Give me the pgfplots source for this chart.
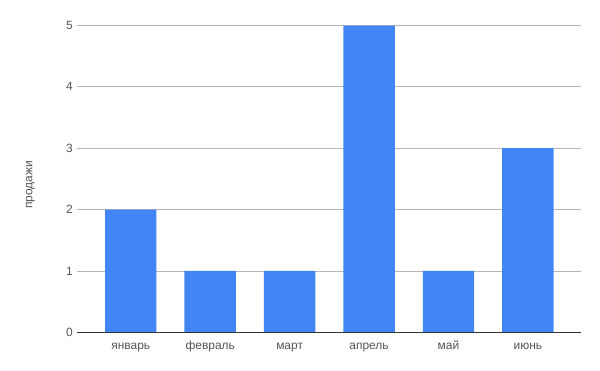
\documentclass[border=0pt]{standalone}
\usepackage{fontspec}
\setmainfont{Liberation Sans}
\usepackage{pgfplots}
\pgfplotsset{compat=1.18}
\definecolor{barblue}{HTML}{4285F4}
\definecolor{gridgray}{HTML}{B7B7B7}
\definecolor{txtgray}{HTML}{555555}
\definecolor{basegray}{HTML}{333333}
\begin{document}
\begin{tikzpicture}
\begin{axis}[
  name=ax,
  scale only axis,
  width=504bp, height=306.8bp,
  xmin=-0.673, xmax=5.672,
  ymin=0, ymax=5,
  ytick={0,1,2,3,4,5},
  xtick={0,1,2,3,4,5},
  xticklabels={январь,февраль,март,апрель,май,июнь},
  /pgf/number format/assume math mode=true,
  axis line style={draw=none},
  major tick length=0pt,
  ymajorgrids,
  grid style={gridgray, line width=0.8pt},
  tick label style={font=\fontsize{12}{14}\selectfont, text=txtgray},
  yticklabel style={xshift=-1bp},
  xticklabel style={anchor=center, text height=1.6ex, text depth=0.3ex, yshift=-14bp},
  ylabel={продажи},
  ylabel style={at={(axis description cs:-0.093,0.48)}, anchor=center, font=\fontsize{12}{14}\selectfont, text=txtgray},
  clip=false,
]
\addplot[ybar, bar width=0.648, fill=barblue, draw=none, bar shift=0pt]
  coordinates {(0,2) (1,1) (2,1) (3,5) (4,1) (5,3)};
\draw[basegray, line width=1pt] (axis cs:-0.673,0) -- (axis cs:5.672,0);
\end{axis}
\pgfresetboundingbox
\path (ax.south west) ++(-77.3bp,-38.7bp) rectangle ++(600bp,371bp);
\end{tikzpicture}
\end{document}
